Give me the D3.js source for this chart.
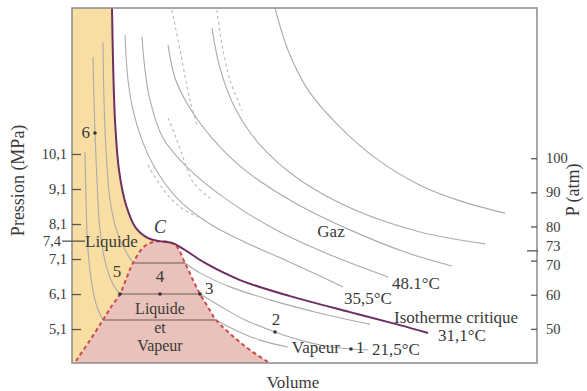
<!DOCTYPE html>
<html>
<head>
<meta charset="utf-8">
<script src="https://cdn.jsdelivr.net/npm/d3@7"></script>
<style>
  body { margin: 0; background: #fff; }
  text { font-family: "Liberation Serif", "DejaVu Serif", serif; fill: #3a3a3a; }
</style>
</head>
<body>
<svg id="chart" width="587" height="391"></svg>
<script>
// Axis ticks
const atmTicks = [50, 60, 70, 73, 80, 90, 100];
const mpaTicks = [5.1, 6.1, 7.1, 7.4, 8.1, 9.1, 10.1];
const mpaLabels = ["5,1", "6,1", "7,1", "7,4", "8,1", "9,1", "10,1"];

// Curves as [volume (arb. units), pressure (atm)]
const critical = [[0.80,144],[0.82,128.8],[0.86,111.2],[0.94,96.5],[1.08,86.3],[1.28,79.5],
  [1.52,76.6],[1.74,75.7],[2.00,75.2],[2.26,73.1],[2.66,69.3],[3.36,64.3],[4.36,59.6],
  [5.56,54.9],[6.56,51.1],[7.12,48.8]];
const criticalPoint = [1.74, 75.7];

const liquidLine = [[1.74,75.7],[1.46,74.3],[1.22,69.3],[1.10,65.2],[0.96,60.2],[0.78,56.4],
  [0.62,52.6],[0.36,46.7],[0.08,40.6]];
const vapourLine = [[1.74,75.7],[2.06,74.6],[2.26,69.3],[2.42,64.3],[2.56,60.2],[2.72,56.4],
  [2.88,52.6],[3.26,47.3],[3.56,43.8],[3.92,40.3]];

const subIsotherms = [
  { liquid: [[0.62,134.0],[0.64,117.0],[0.68,102.4],[0.76,87.8],[0.90,78.4],[1.06,73.1],[1.22,69.3]],
    vapour: [[2.26,69.3],[2.56,66.4],[3.16,62.3],[3.96,58.5],[4.96,54.6],[5.96,51.4]] },
  { liquid: [[0.42,129.6],[0.44,117.0],[0.46,107.4],[0.50,93.6],[0.56,79.0],[0.68,68.7],[0.82,63.1],[0.96,60.2]],
    vapour: [[2.56,60.2],[2.96,56.7],[3.46,52.6],[4.06,49.1],[4.56,46.7],[5.06,45.0],[5.58,44.1],[5.92,43.8]] },
  { liquid: [[0.26,101.8],[0.28,87.8],[0.32,73.1],[0.40,62.9],[0.50,56.4],[0.62,52.6]],
    vapour: [[2.88,52.6],[3.26,49.7],[3.76,46.7],[4.32,44.7]] }
];

const superIsotherms = [
  [[1.06,136.1],[1.12,122.9],[1.22,114.1],[1.40,105.3],[1.66,97.1],[2.10,88.3],[2.76,80.7],[3.46,75.4],[4.26,70.2],[4.96,65.5],[5.42,62.3]],
  [[1.40,135.5],[1.46,125.8],[1.56,117.0],[1.82,105.9],[2.32,97.1],[3.16,87.2],[4.16,78.4],[5.26,71.1],[6.32,65.2]],
  [[1.92,133.2],[2.06,123.5],[2.32,115.6],[2.80,105.9],[3.46,96.5],[4.46,86.9],[5.56,79.0],[6.66,72.5],[7.60,68.4]],
  [[2.80,138.1],[2.96,126.4],[3.26,114.7],[3.76,103.9],[4.56,93.6],[5.66,84.8],[6.96,78.4],[8.26,74.9]],
  [[4.06,144.0],[4.32,131.7],[4.72,120.0],[5.32,109.7],[6.12,99.5],[6.96,92.1],[7.76,87.5],[8.66,83.9]]
];

const dashedCurves = [
  [[2.00,143.4],[2.16,131.7],[2.36,117.0],[2.50,109.7]],
  [[2.90,143.4],[3.00,133.2],[3.16,122.9],[3.40,114.1]],
  [[1.92,111.8],[2.06,106.8],[2.24,99.5],[2.42,93.0],[2.76,88.3]],
  [[1.52,98.0],[1.80,91.3],[2.16,85.7],[2.52,82.8]]
];

// Numbered states along the 21,5 °C isotherm
const states = [
  { n: "1", v: 5.58, p: 44.1 }, { n: "2", v: 4.06, p: 49.1 }, { n: "3", v: 2.56, p: 60.2 },
  { n: "4", v: 1.76, p: 60.2 }, { n: "5", v: 0.96, p: 60.2 }, { n: "6", v: 0.46, p: 107.4 }
];

const notes = [
  { t: "Gaz", v: 5.18, p: 76.9, a: "middle", s: 17 },
  { t: "48.1°C", v: 6.40, p: 61.7, a: "start", s: 17 },
  { t: "35,5°C", v: 5.44, p: 57.3, a: "start", s: 17 },
  { t: "Isotherme critique", v: 6.44, p: 51.7, a: "start", s: 17 },
  { t: "31,1°C", v: 7.32, p: 46.4, a: "start", s: 17 },
  { t: "21,5°C", v: 6.00, p: 42.3, a: "start", s: 17 },
  { t: "Vapeur", v: 5.36, p: 42.9, a: "end", s: 17 },
  { t: "Liquide", v: 0.26, p: 74.0, a: "start", s: 17 },
  { t: "Liquide", v: 1.76, p: 54.4, a: "middle", s: 16 },
  { t: "et", v: 1.76, p: 48.8, a: "middle", s: 16 },
  { t: "Vapeur", v: 1.76, p: 43.6, a: "middle", s: 16 }
];

const svg = d3.select("#chart"),
  margin = { top: 8, left: 72, bottom: 28, right: 50 },
  width = +svg.attr("width"),
  height = +svg.attr("height");

const x = d3.scaleLinear().domain([0, 9.3]).range([margin.left, width - margin.right]);
const y = d3.scaleLinear().domain([40, 144]).range([height - margin.bottom, margin.top]);
const yMpa = d3.scaleLinear().domain([4.13, 14.27]).range([height - margin.bottom, margin.top]);

const line = d3.line().x(d => x(d[0])).y(d => y(d[1])).curve(d3.curveCatmullRom.alpha(0.5));
const join = segs => segs.map((s, i) => i ? line(s).replace(/^M/, "L") : line(s)).join("") + "Z";

svg.append("clipPath").attr("id", "plot").append("rect")
  .attr("x", x(0)).attr("y", y(144)).attr("width", x(9.3) - x(0)).attr("height", y(40) - y(144));

const plot = svg.append("g").attr("clip-path", "url(#plot)");

// Liquid region
const cIdx = critical.findIndex(d => d[0] === criticalPoint[0]);
plot.append("path")
  .attr("d", join([critical.slice(0, cIdx + 1), liquidLine, [[0.08,40.6],[0,40],[0,144],[0.80,144]]]))
  .attr("fill", "#f8dea2");

// Liquid + vapour dome
const dome = liquidLine.slice().reverse().concat(vapourLine.slice(1));
plot.append("path")
  .attr("d", join([dome, [[3.92,40.3],[3.92,39],[0.08,39],[0.08,40.6]]]))
  .attr("fill", "#e9c2bb");

const grey = "#ababab";
superIsotherms.forEach(s => plot.append("path").attr("d", line(s))
  .attr("fill", "none").attr("stroke", grey).attr("stroke-width", 1.1));
dashedCurves.forEach(s => plot.append("path").attr("d", line(s))
  .attr("fill", "none").attr("stroke", "#b8b8b8").attr("stroke-width", 1.1).attr("stroke-dasharray", "3,3"));

subIsotherms.forEach(iso => {
  plot.append("path").attr("d", line(iso.liquid))
    .attr("fill", "none").attr("stroke", grey).attr("stroke-width", 1.1);
  plot.append("path").attr("d", line(iso.vapour))
    .attr("fill", "none").attr("stroke", grey).attr("stroke-width", 1.1);
  const a = iso.liquid[iso.liquid.length - 1], b = iso.vapour[0];
  plot.append("line")
    .attr("x1", x(a[0])).attr("x2", x(b[0])).attr("y1", y(a[1])).attr("y2", y(b[1]))
    .attr("stroke", "#6e5a5a").attr("stroke-width", 1.1);
});

plot.append("path").attr("d", line(dome))
  .attr("fill", "none").attr("stroke", "#cc4b4b").attr("stroke-width", 2).attr("stroke-dasharray", "4,3");

plot.append("path").attr("d", line(critical))
  .attr("fill", "none").attr("stroke", "#6d2f63").attr("stroke-width", 2);

// Frame
svg.append("rect")
  .attr("x", x(0)).attr("y", y(144)).attr("width", x(9.3) - x(0)).attr("height", y(40) - y(144))
  .attr("fill", "none").attr("stroke", "#8a8a8a").attr("stroke-width", 1.5);

// Axes
const right = svg.append("g").attr("transform", `translate(${x(9.3)},0)`)
  .call(d3.axisRight(y).tickValues(atmTicks).tickSize(-6).tickPadding(9));
const left = svg.append("g").attr("transform", `translate(${x(0)},0)`)
  .call(d3.axisLeft(yMpa).tickValues(mpaTicks).tickSize(-9).tickPadding(5)
    .tickFormat((d, i) => mpaLabels[i]));
[left, right].forEach(g => {
  g.select(".domain").remove();
  g.selectAll("line").attr("stroke", "#555").attr("stroke-width", 1.3);
  g.selectAll("text").attr("font-size", 14.5).attr("font-family", "Liberation Serif").attr("fill", "#3a3a3a");
});
right.selectAll(".tick").filter(d => d === 73).select("line").attr("x1", 1).attr("x2", -10);
right.selectAll(".tick").filter(d => d === 73).select("text").attr("y", -4);
right.selectAll(".tick").filter(d => d === 70).select("text").attr("y", 4);
// the 7,4 MPa mark sits on the critical pressure
const t74 = left.selectAll(".tick").filter(d => d === 7.4)
  .attr("transform", `translate(0,${y(criticalPoint[1])})`);
t74.select("line").attr("x1", -10).attr("x2", 13);
t74.select("text").attr("x", -11);

// Axis titles
svg.append("text").attr("transform", `translate(24,${y(93.5)}) rotate(-90)`)
  .attr("text-anchor", "middle").attr("font-size", 18).text("Pression (MPa)");
svg.append("text").attr("transform", `translate(579,${y(90.7)}) rotate(-90)`)
  .attr("text-anchor", "middle").attr("font-size", 18).text("P (atm)");
svg.append("text").attr("x", 293).attr("y", 388)
  .attr("text-anchor", "middle").attr("font-size", 17).text("Volume");

// States
svg.selectAll("circle.state").data(states).enter().append("circle")
  .attr("class", "state").attr("cx", d => x(d.v)).attr("cy", d => y(d.p)).attr("r", 1.8).attr("fill", "#333");
const off = { "1": [5, 4, "start"], "2": [1, -7, "middle"], "3": [5, 0, "start"],
  "4": [0, -12, "middle"], "5": [-3, -17, "middle"], "6": [-5, 5, "end"] };
svg.selectAll("text.state").data(states).enter().append("text")
  .attr("x", d => x(d.v) + off[d.n][0]).attr("y", d => y(d.p) + off[d.n][1])
  .attr("text-anchor", d => off[d.n][2]).attr("font-size", 17).text(d => d.n);

svg.append("text").attr("x", x(criticalPoint[0]) + 1).attr("y", y(criticalPoint[1]) - 8)
  .attr("text-anchor", "middle").attr("font-size", 18).attr("font-style", "italic").text("C");

svg.selectAll("text.note").data(notes).enter().append("text")
  .attr("x", d => x(d.v)).attr("y", d => y(d.p)).attr("text-anchor", d => d.a)
  .attr("font-size", d => d.s).text(d => d.t);
</script>
</body>
</html>
